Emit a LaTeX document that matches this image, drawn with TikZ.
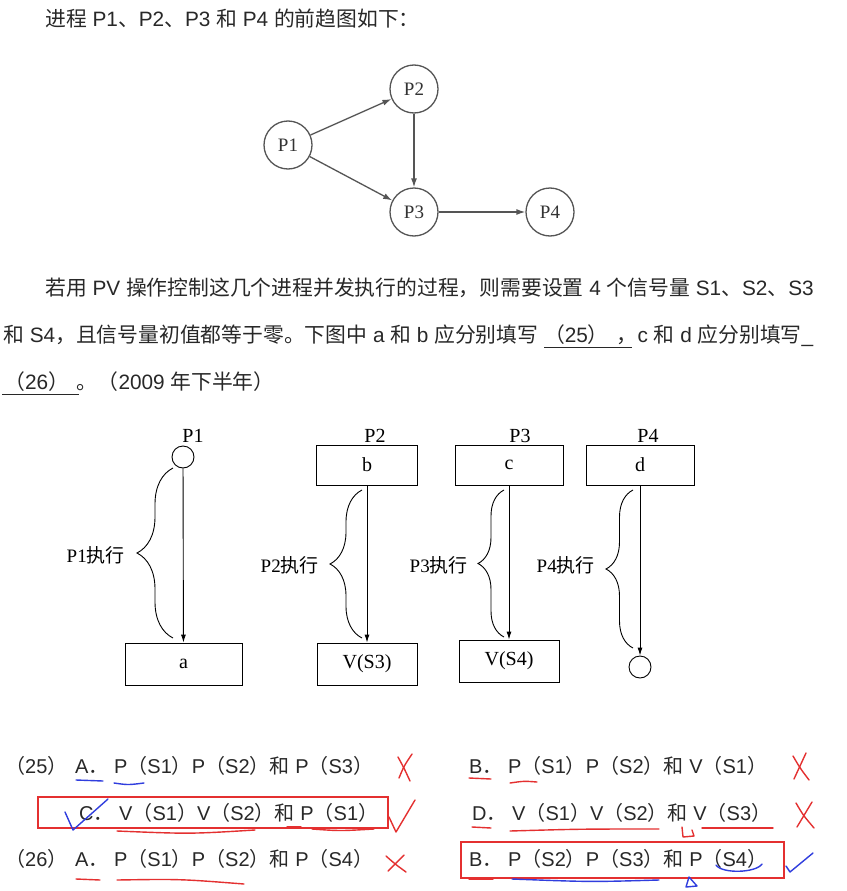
\documentclass[tikz,border=0pt]{standalone}
\usepackage{fontspec}
\setmainfont{Noto Sans CJK SC}
\newfontfamily\la{Liberation Sans}
\newfontfamily\se{Liberation Serif}
\newfontfamily\zh{Noto Sans CJK SC}
\usetikzlibrary{arrows.meta,decorations.pathreplacing}
\newcommand\lt[1]{{\la #1}}
\newcommand\myul[2]{\leavevmode\rlap{\raisebox{-6pt}{\rule{#1}{1.1pt}}}#2}
\definecolor{hred}{RGB}{228,48,48}
\definecolor{hblue}{RGB}{48,62,222}
\definecolor{gline}{RGB}{85,85,85}
\definecolor{tcol}{RGB}{40,40,40}
\begin{document}
\begin{tikzpicture}[x=1pt,y=-1pt,
  txt/.style={anchor=base west,inner sep=0pt,text=tcol,font=\fontsize{20.8}{24}\selectfont},
  ans/.style={anchor=base west,inner sep=0pt,text=tcol,font=\fontsize{20}{24}\selectfont},
  gnode/.style={circle,draw=gline,line width=1.3pt,minimum size=48pt,inner sep=0pt,text=black!80,font=\se\fontsize{19}{22}\selectfont},
  garr/.style={draw=gline,line width=1.3pt,-{Latex[length=9pt,width=6pt]}},
  pbox/.style={draw,line width=0.9pt,inner sep=0pt,font=\se\fontsize{20}{22}\selectfont},
  pcirc/.style={circle,draw,line width=0.9pt,minimum size=22pt,inner sep=0pt},
  parr/.style={line width=0.9pt,-{Latex[length=8pt,width=5pt]}},
  pbrace/.style={decorate,line width=0.9pt,decoration={brace,amplitude=#1}},
  plab/.style={inner sep=0pt,font=\fontsize{19}{22}\selectfont},
  ptop/.style={inner sep=0pt,font=\se\fontsize{20}{22}\selectfont},
  hr/.style={draw=hred,line width=1.4pt,line cap=round,line join=round},
  hb/.style={draw=hblue,line width=1.4pt,line cap=round,line join=round},
  rbox/.style={draw=hred,line width=1.8pt}
]
\useasboundingbox (0,0) rectangle (846,891);
\fill[white] (0,0) rectangle (846,891);

% ---- top text
\node[txt] (t1) at (45,27) {进程\lt{ P1}、\lt{P2}、\lt{P3 }和\lt{ P4 }的前趋图如下：};

% ---- precedence graph
\node[gnode] (g1) at (288,145) {P1};
\node[gnode] (g2) at (414,89) {P2};
\node[gnode] (g3) at (414,212) {P3};
\node[gnode] (g4) at (550,212) {P4};
\draw[garr] (g1) -- (g2);
\draw[garr] (g1) -- (g3);
\draw[garr] (g2) -- (g3);
\draw[garr] (g3) -- (g4);

% ---- paragraph
\node[txt] (m1) at (45,295) {若用\lt{ PV }操作控制这几个进程并发执行的过程，则需要设置\lt{ 4 }个信号量\lt{ S1}、\lt{S2}、\lt{S3}};
\node[txt] (m2) at (3,342) {和\lt{ S4}，且信号量初值都等于零。下图中\lt{ a }和\lt{ b }应分别填写\lt{ }\myul{88pt}{（\lt{25}）}\hspace{8pt}，\lt{c }和\lt{ d }应分别填写\lt{\_}};
\node[txt] (m3) at (2,389) {\myul{77pt}{\hspace{2pt}（\lt{26}）}\hspace{8pt}。（\lt{2009 }年下半年）};

% ---- process diagram
\node[ptop] (lp1) at (193,436) {P1};
\node[ptop] (lp2) at (375,436) {P2};
\node[ptop] (lp3) at (520,436) {P3};
\node[ptop] (lp4) at (648,436) {P4};

\node[pcirc] (c1) at (183,457) {};
\node[pbox,minimum width=117pt,minimum height=42pt] (ba) at (183.5,664) {a};
\node[pbox,minimum width=101pt,minimum height=40pt] (bb) at (367,465) {b};
\node[pbox,minimum width=100pt,minimum height=42pt] (bv3) at (367,664) {V(S3)};
\node[pbox,minimum width=108pt,minimum height=40pt] (bc) at (509,465) {c};
\node[pbox,minimum width=100pt,minimum height=42pt] (bv4) at (509,661) {V(S4)};
\node[pbox,minimum width=108pt,minimum height=40pt] (bd) at (640,465) {d};
\node[pcirc] (c4) at (640,667) {};

\draw[parr] (c1) -- (ba);
\draw[parr] (bb) -- (bv3);
\draw[parr] (bc) -- (bv4);
\draw[parr] (bd) -- (c4);

\draw[pbrace=36pt] (173,638) -- (173,468);
\draw[pbrace=32pt] (362,638) -- (362,490);
\draw[pbrace=26pt] (504,637) -- (504,490);
\draw[pbrace=27pt] (633,648) -- (633,490);

\node[plab,anchor=east] (e1) at (125,555) {\se P1\zh 执行};
\node[plab,anchor=east] (e2) at (319,565) {\se P2\zh 执行};
\node[plab,anchor=east] (e3) at (468,565) {\se P3\zh 执行};
\node[plab,anchor=east] (e4) at (595,565) {\se P4\zh 执行};

% ---- answers
\node[ans] (q25) at (5,773) {（\lt{25}）};
\node[ans] (a25) at (75,773) {\lt{A}．\lt{ P}（\lt{S1}）\lt{P}（\lt{S2}）和\lt{ P}（\lt{S3}）};
\node[ans] (b25) at (469,773) {\lt{B}．\lt{ P}（\lt{S1}）\lt{P}（\lt{S2}）和\lt{ V}（\lt{S1}）};
\node[ans] (c25) at (79,820) {\lt{C}．\lt{ V}（\lt{S1}）\lt{V}（\lt{S2}）和\lt{ P}（\lt{S1}）};
\node[ans] (d25) at (472,820) {\lt{D}．\lt{ V}（\lt{S1}）\lt{V}（\lt{S2}）和\lt{ V}（\lt{S3}）};
\node[ans] (q26) at (5,866) {（\lt{26}）};
\node[ans] (a26) at (75,866) {\lt{A}．\lt{ P}（\lt{S1}）\lt{P}（\lt{S2}）和\lt{ P}（\lt{S4}）};
\node[ans] (b26) at (469,866) {\lt{B}．\lt{ P}（\lt{S2}）\lt{P}（\lt{S3}）和\lt{ P}（\lt{S4}）};

% red boxes
\draw[rbox] (38,797) rectangle (388,828);
\draw[rbox] (461,842) rectangle (784,878);

% row 1 marks
\draw[hb] (76,780) -- (103,781);
\draw[hb] (114,783) .. controls (128,785) .. (144,783);
\draw[hr] (398,757) .. controls (404,768) .. (410,781);
\draw[hr] (412,754) .. controls (404,766) .. (399,778);
\draw[hr] (469,778) -- (491,779);
\draw[hr] (510,783) .. controls (524,781) .. (537,782);
\draw[hr] (793,756) .. controls (800,768) .. (809,780);
\draw[hr] (806,753) .. controls (800,766) .. (794,779);

% row 2 marks
\draw[hb] (65,812) -- (73,830) -- (108,799);
\draw[hr] (117,831) .. controls (190,834) .. (255,830);
\draw[hr] (287,827) -- (301,827);
\draw[hr] (312,829) .. controls (340,831) .. (374,829);
\draw[hr] (389,817) -- (396,832) -- (415,800);
\draw[hr] (472,827) -- (491,828);
\draw[hr] (510,831) .. controls (580,829) .. (659,829);
\draw[hr] (682,827) -- (683,837) -- (694,836) -- (692,830);
\draw[hr] (702,828) -- (773,828);
\draw[hr] (796,803) .. controls (803,815) .. (814,828);
\draw[hr] (812,802) .. controls (805,815) .. (797,827);

% row 3 marks
\draw[hr] (386,856) .. controls (395,864) .. (406,872);
\draw[hr] (404,855) .. controls (396,863) .. (388,871);
\draw[hr] (76,879) -- (100,880);
\draw[hr] (117,880) .. controls (180,879) .. (244,884);
\draw[hr] (469,879) -- (493,879);
\draw[hb] (512,879) .. controls (590,882) .. (659,880);
\draw[hb] (716,865) .. controls (722,874) and (756,873) .. (762,864);
\draw[hb] (689,877) -- (686,887) -- (697,886) -- cycle;
\draw[hb] (786,866) -- (790,872) -- (813,853);
\end{tikzpicture}
\end{document}
